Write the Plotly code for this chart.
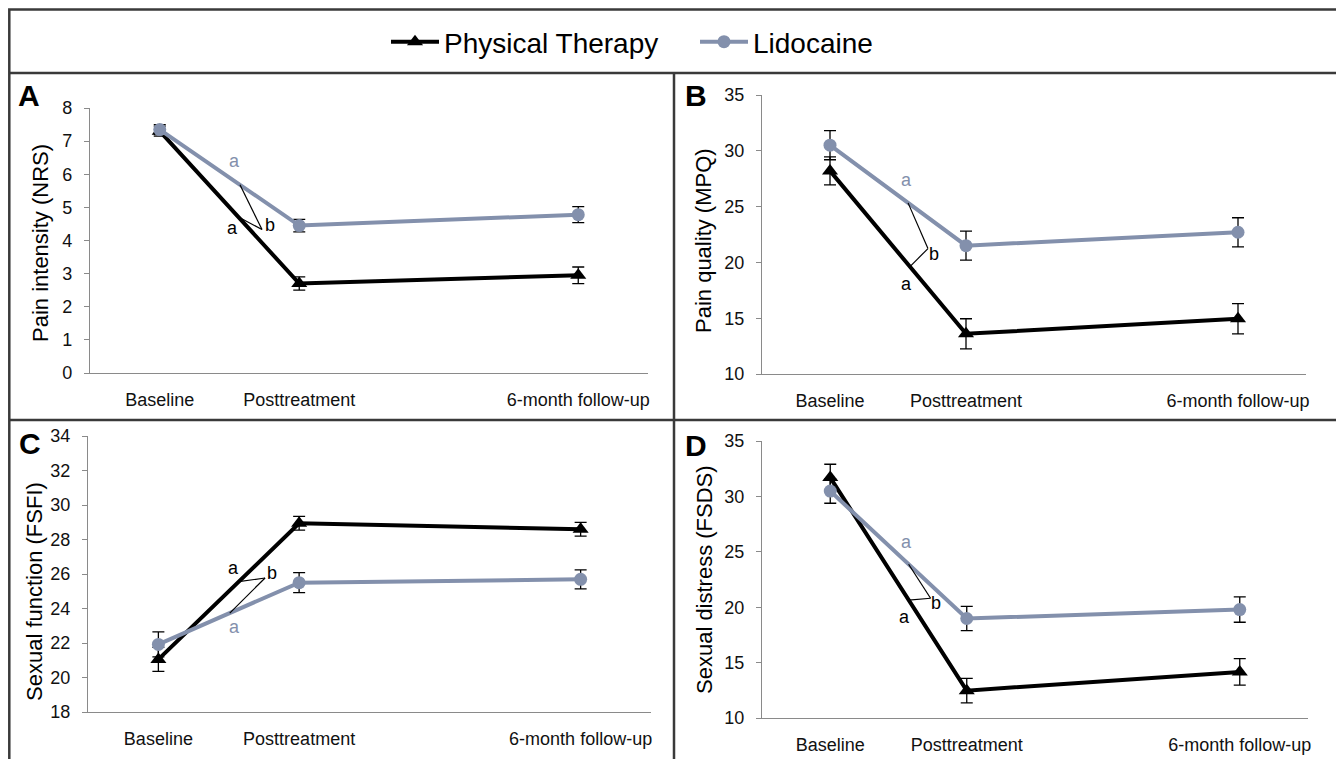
import plotly.graph_objects as go

# ---------------- data ----------------
slots = ["Baseline", "Posttreatment", " ", "6-month follow-up"]   # Excel-style category slots
timepoints = ["Baseline", "Posttreatment", "6-month follow-up"]

pt_nrs = [7.30, 2.70, 2.95]
pt_nrs_se = [0.15, 0.20, 0.25]
lido_nrs = [7.35, 4.45, 4.78]
lido_nrs_se = [0.15, 0.19, 0.24]

pt_mpq = [28.2, 13.6, 14.95]
pt_mpq_se = [1.25, 1.35, 1.35]
lido_mpq = [30.5, 21.5, 22.7]
lido_mpq_se = [1.30, 1.30, 1.30]

pt_fsfi = [21.05, 28.94, 28.59]
pt_fsfi_se = [0.70, 0.40, 0.40]
lido_fsfi = [21.92, 25.50, 25.69]
lido_fsfi_se = [0.73, 0.58, 0.55]

pt_fsds = [31.7, 12.47, 14.16]
pt_fsds_se = [1.20, 1.10, 1.20]
lido_fsds = [30.48, 18.98, 19.79]
lido_fsds_se = [1.10, 1.10, 1.15]

y_titles = ["Pain intensity (NRS)", "Pain quality (MPQ)", "Sexual function (FSFI)", "Sexual distress (FSDS)"]
panel_letters = ["A", "B", "C", "D"]
y_ranges = [(0, 8, 1), (10, 35, 5), (18, 34, 2), (10, 35, 5)]

# ---------------- style ----------------
W, H = 1344, 759
OFF = 8   # page body margin offset
BLACK = "#000000"
LIDO = "#8390AC"
AXIS = "#8a8a8a"
FRAME = "#3a3a3a"
REG = "Liberation Sans, Arial, sans-serif"

def px(x):
    return (x - OFF) / W

def py(y):
    return 1 - (y - OFF) / H

# plot areas in screen pixels: (left, right, top, bottom)
areas = [(90, 648, 108, 373), (762, 1306, 95, 374), (88, 651, 436, 712), (762, 1308, 441, 718)]
title_pos = [(40, 243), (704, 241), (34, 592), (704, 580)]
letter_pos = [(29, 95), (696, 95), (30, 443), (696, 445)]

# annotation geometry per panel (data coords on each panel)
marks = [
    dict(grey_a=(0.539, 6.41), black_a=(0.525, 4.39), b=(0.79, 4.48), vertex=(0.733, 4.33), lido_f=0.575, pt_f=0.561),
    dict(grey_a=(0.566, 27.36), black_a=(0.566, 18.09), b=(0.765, 20.79), vertex=(0.72, 21.24), lido_f=0.574, pt_f=0.588),
    dict(grey_a=(0.544, 22.93), black_a=(0.537, 26.35), b=(0.807, 26.06), vertex=(0.758, 25.77), lido_f=0.507, pt_f=0.571),
    dict(grey_a=(0.559, 25.87), black_a=(0.544, 19.10), b=(0.772, 20.36), vertex=(0.735, 20.81), lido_f=0.574, pt_f=0.575),
]

series = [
    (pt_nrs, pt_nrs_se, lido_nrs, lido_nrs_se),
    (pt_mpq, pt_mpq_se, lido_mpq, lido_mpq_se),
    (pt_fsfi, pt_fsfi_se, lido_fsfi, lido_fsfi_se),
    (pt_fsds, pt_fsds_se, lido_fsds, lido_fsds_se),
]

fig = go.Figure()
layout = {}
annotations = []
shapes = []

for i, (pt, pt_se, li, li_se) in enumerate(series):
    n = "" if i == 0 else str(i + 1)
    xa, ya = "x" + n, "y" + n
    fig.add_trace(go.Scatter(
        x=timepoints, y=pt, xaxis=xa, yaxis=ya, mode="lines+markers",
        name="Physical Therapy", showlegend=(i == 0), legendgroup="pt",
        line=dict(color=BLACK, width=4),
        marker=dict(symbol="triangle-up", size=14, color=BLACK),
        error_y=dict(type="data", array=pt_se, color=BLACK, thickness=1.3, width=6),
    ))
    fig.add_trace(go.Scatter(
        x=timepoints, y=li, xaxis=xa, yaxis=ya, mode="lines+markers",
        name="Lidocaine", showlegend=(i == 0), legendgroup="li",
        line=dict(color=LIDO, width=4),
        marker=dict(symbol="circle", size=13, color=LIDO),
        error_y=dict(type="data", array=li_se, color=BLACK, thickness=1.3, width=6),
    ))
    l, r, t, b = areas[i]
    y0, y1, dt = y_ranges[i]
    layout["xaxis" + n] = dict(
        domain=[px(l), px(r)], anchor=ya, type="category",
        categoryorder="array", categoryarray=slots, range=[-0.5, 3.5],
        showline=True, linecolor=AXIS, linewidth=1.2, ticks="", showgrid=False,
        zeroline=False, tickfont=dict(family=REG, size=18, color="#111"),
        ticklabelstandoff=10, fixedrange=True, automargin=False,
    )
    layout["yaxis" + n] = dict(
        domain=[py(b), py(t)], anchor=xa, range=[y0, y1], dtick=dt, tick0=y0,
        showline=True, linecolor=AXIS, linewidth=1.2, ticks="outside", ticklen=5,
        tickcolor=AXIS, showgrid=False, zeroline=False,
        tickfont=dict(family=REG, size=18, color="#111"), ticklabelstandoff=8,
        fixedrange=True, automargin=False,
    )
    # axis title
    tx, ty = title_pos[i]
    annotations.append(dict(x=px(tx), y=py(ty), xref="paper", yref="paper", text=y_titles[i],
                            textangle=-90, showarrow=False, xanchor="center", yanchor="middle",
                            font=dict(family=REG, size=22, color="#000")))
    lx, ly = letter_pos[i]
    annotations.append(dict(x=px(lx), y=py(ly), xref="paper", yref="paper", text="<b>%s</b>" % panel_letters[i],
                            showarrow=False, xanchor="center", yanchor="middle",
                            font=dict(family=REG, size=30, color="#000")))
    m = marks[i]
    annotations.append(dict(x=m["grey_a"][0], y=m["grey_a"][1], xref=xa, yref=ya, text="a",
                            showarrow=False, font=dict(family=REG, size=18, color=LIDO)))
    annotations.append(dict(x=m["black_a"][0], y=m["black_a"][1], xref=xa, yref=ya, text="a",
                            showarrow=False, font=dict(family=REG, size=18, color="#000")))
    annotations.append(dict(x=m["b"][0], y=m["b"][1], xref=xa, yref=ya, text="b",
                            showarrow=False, font=dict(family=REG, size=18, color="#000")))
    vx, vy = m["vertex"]
    f_l = m["lido_f"]
    f_p = m["pt_f"]
    ly_att = li[0] + f_l * (li[1] - li[0])
    py_att = pt[0] + f_p * (pt[1] - pt[0])
    shapes.append(dict(type="line", xref=xa, yref=ya, x0=f_l, y0=ly_att, x1=vx, y1=vy,
                       line=dict(color="#000", width=1.2)))
    shapes.append(dict(type="line", xref=xa, yref=ya, x0=f_p, y0=py_att, x1=vx, y1=vy,
                       line=dict(color="#000", width=1.2)))

# frame lines (paper coords)
fr = dict(color=FRAME, width=2.5)
shapes += [
    dict(type="rect", xref="paper", yref="paper", x0=px(9.3), x1=px(1338), y0=py(775), y1=py(9.5), line=fr),
    dict(type="line", xref="paper", yref="paper", x0=px(9), x1=px(1338), y0=py(73), y1=py(73), line=fr),
    dict(type="line", xref="paper", yref="paper", x0=px(9), x1=px(1338), y0=py(420), y1=py(420), line=fr),
    dict(type="line", xref="paper", yref="paper", x0=px(674), x1=px(674), y0=py(73), y1=py(775), line=fr),
]

fig.update_layout(
    width=W, height=H, margin=dict(l=0, r=0, t=0, b=0, pad=0, autoexpand=False),
    paper_bgcolor="white", plot_bgcolor="white",
    showlegend=True,
    legend=dict(orientation="h", x=px(386), xanchor="left", y=py(42), yanchor="middle",
                font=dict(family=REG, size=28, color="#000"), bgcolor="rgba(0,0,0,0)",
                itemwidth=48, entrywidth=246, entrywidthmode="pixels", tracegroupgap=0),
    annotations=annotations, shapes=shapes,
    **layout,
)

fig.write_html("out.html")
